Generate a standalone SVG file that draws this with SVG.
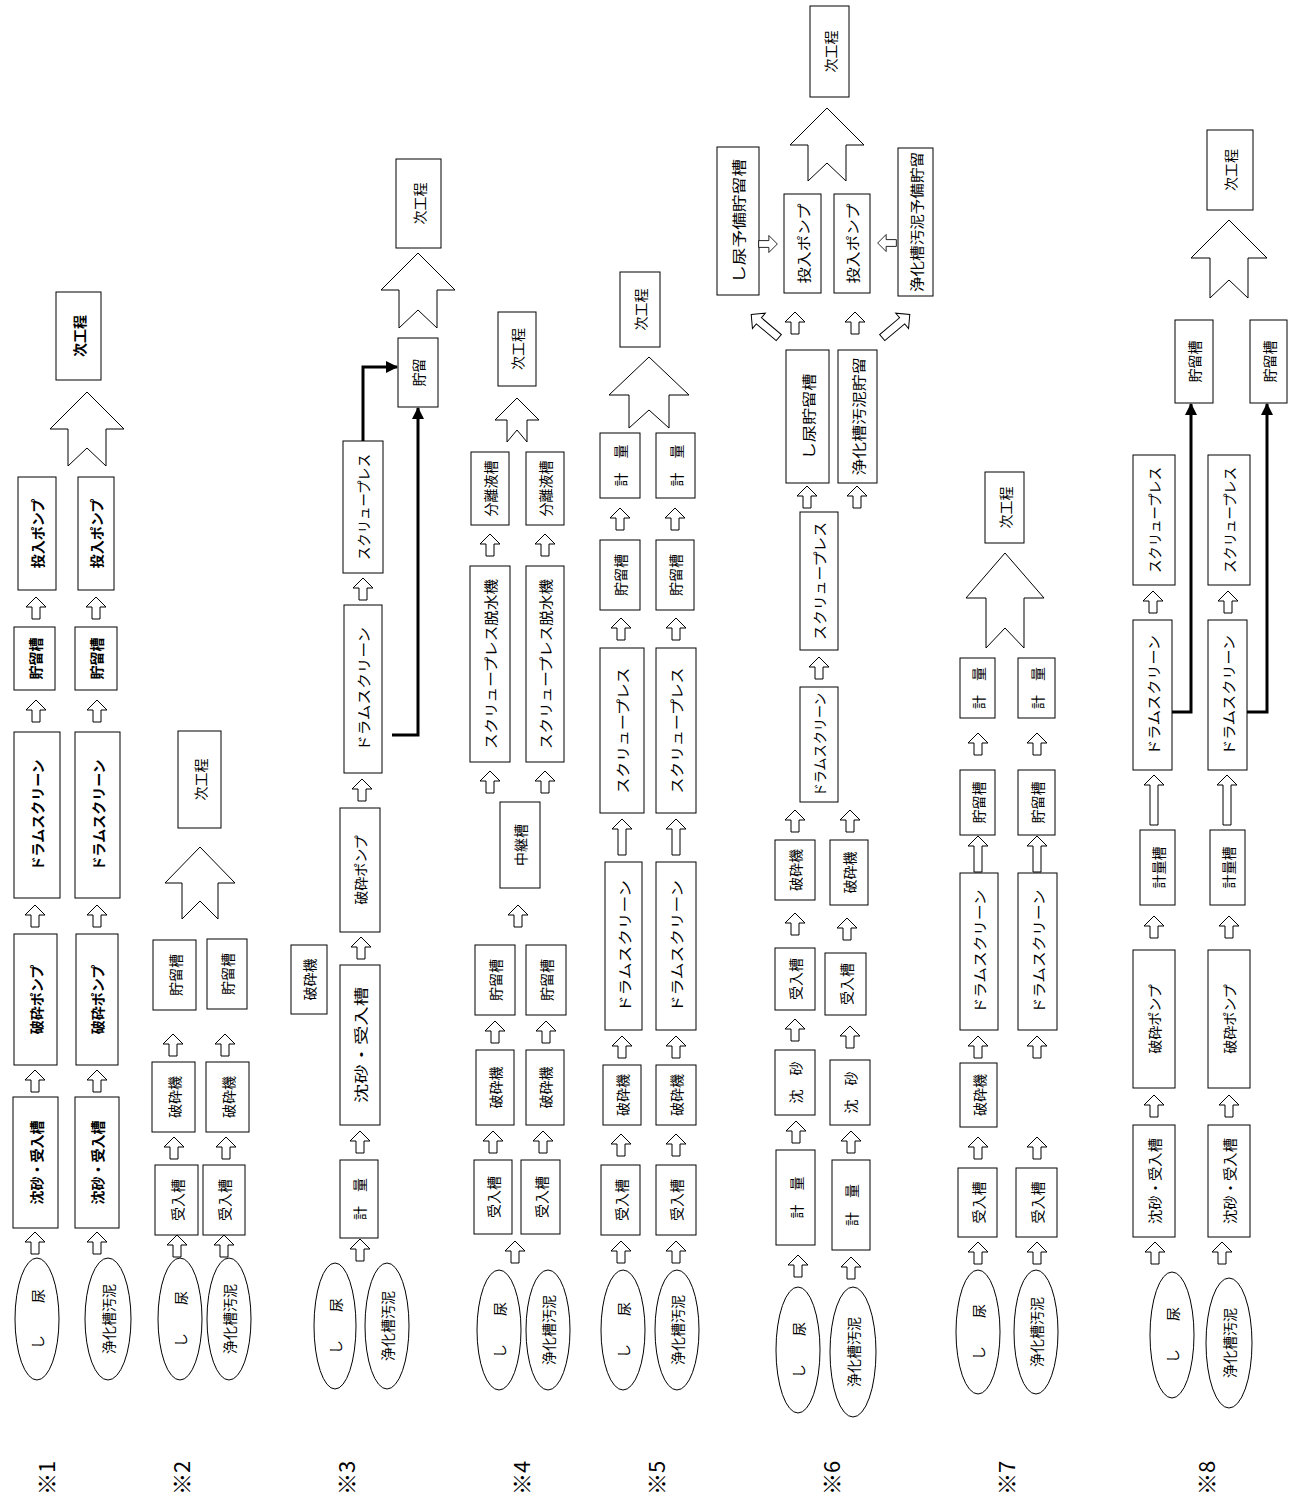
<svg xmlns="http://www.w3.org/2000/svg" xmlns:xlink="http://www.w3.org/1999/xlink" width="1293" height="1506" viewBox="0 0 1293 1506">
<style>
.b{fill:#fff;stroke:#000;stroke-width:1}
.t{font-family:"Noto Sans CJK JP","Noto Sans CJK SC",sans-serif;font-size:14px;text-anchor:middle;dominant-baseline:central;fill:#000}
.tb{font-weight:bold;font-size:14px}
.ar{fill:#fff;stroke:#000;stroke-width:1}
.big{fill:#fff;stroke:#000;stroke-width:1}
.th{fill:none;stroke:#000;stroke-width:3}
.lab{font-family:"Noto Sans CJK JP",sans-serif;font-size:22px;text-anchor:middle;dominant-baseline:central}
</style>
<defs>
<path id="sa" class="ar" d="M0,-11 L10,-1 L4,-1 L4,11 L-4,11 L-4,-1 L-10,-1 Z"/>
<path id="ta" class="ar" d="M0,-18 L10,-8 L4,-8 L4,18 L-4,18 L-4,-8 L-10,-8 Z"/>
<path id="tb" class="ar" d="M0,-25 L10,-15 L4,-15 L4,25 L-4,25 L-4,-15 L-10,-15 Z"/>
<marker id="ah" markerWidth="12" markerHeight="12" refX="11" refY="6" orient="auto" markerUnits="userSpaceOnUse"><path d="M0,0 L12,6 L0,12 Z" fill="#000"/></marker>
</defs>
<rect width="1293" height="1506" fill="#fff"/>

<!-- ※1 -->
<g id="c1">
<g id="n1_e1"><ellipse class="b" cx="37" cy="1319" rx="22" ry="61"/><text class="t" transform="translate(37,1319) rotate(-90)" textLength="60" lengthAdjust="spacing">し　尿</text></g>
<g id="n1_e2"><ellipse class="b" cx="108" cy="1319" rx="23" ry="61"/><text class="t" transform="translate(108,1319) rotate(-90)">浄化槽汚泥</text></g>
<g id="n1_a1"><rect class="b" x="13" y="1097" width="45" height="131"/><text class="t tb" transform="translate(35.5,1162.5) rotate(-90)">沈砂・受入槽</text></g>
<g id="n1_a2"><rect class="b" x="75" y="1097" width="44" height="131"/><text class="t tb" transform="translate(97,1162.5) rotate(-90)">沈砂・受入槽</text></g>
<g id="n1_b1"><rect class="b" x="14" y="934" width="43" height="131"/><text class="t tb" transform="translate(35.5,999.5) rotate(-90)">破砕ポンプ</text></g>
<g id="n1_b2"><rect class="b" x="76" y="934" width="42" height="131"/><text class="t tb" transform="translate(97,999.5) rotate(-90)">破砕ポンプ</text></g>
<g id="n1_c1"><rect class="b" x="14" y="732" width="46" height="166"/><text class="t tb" transform="translate(37,815) rotate(-90)">ドラムスクリーン</text></g>
<g id="n1_c2"><rect class="b" x="75" y="732" width="45" height="166"/><text class="t tb" transform="translate(97.5,815) rotate(-90)">ドラムスクリーン</text></g>
<g id="n1_d1"><rect class="b" x="14" y="627" width="41" height="63"/><text class="t tb" transform="translate(34.5,658.5) rotate(-90)">貯留槽</text></g>
<g id="n1_d2"><rect class="b" x="75" y="627" width="42" height="63"/><text class="t tb" transform="translate(96,658.5) rotate(-90)">貯留槽</text></g>
<g id="n1_f1"><rect class="b" x="18" y="477" width="38" height="113"/><text class="t tb" transform="translate(37,533.5) rotate(-90)">投入ポンプ</text></g>
<g id="n1_f2"><rect class="b" x="78" y="477" width="36" height="113"/><text class="t tb" transform="translate(96,533.5) rotate(-90)">投入ポンプ</text></g>
<g id="n1_next"><rect class="b" x="56" y="292" width="45" height="88"/><text class="t tb" transform="translate(78.5,336) rotate(-90)">次工程</text></g>
</g>

<!-- ※2 -->
<g id="c2">
<g id="n2_e1"><ellipse class="b" cx="180" cy="1319" rx="22" ry="61"/><text class="t" transform="translate(180,1319) rotate(-90)" textLength="56" lengthAdjust="spacing">し　尿</text></g>
<g id="n2_e2"><ellipse class="b" cx="229" cy="1319" rx="22" ry="61"/><text class="t" transform="translate(229,1319) rotate(-90)">浄化槽汚泥</text></g>
<g id="n2_a1"><rect class="b" x="155" y="1165" width="43" height="70"/><text class="t" transform="translate(176.5,1200) rotate(-90)">受入槽</text></g>
<g id="n2_a2"><rect class="b" x="203" y="1165" width="42" height="70"/><text class="t" transform="translate(224,1200) rotate(-90)">受入槽</text></g>
<g id="n2_b1"><rect class="b" x="152" y="1062" width="43" height="70"/><text class="t" transform="translate(173.5,1097) rotate(-90)">破砕機</text></g>
<g id="n2_b2"><rect class="b" x="206" y="1062" width="43" height="70"/><text class="t" transform="translate(227.5,1097) rotate(-90)">破砕機</text></g>
<g id="n2_c1"><rect class="b" x="153" y="940" width="43" height="70"/><text class="t" transform="translate(174.5,975) rotate(-90)">貯留槽</text></g>
<g id="n2_c2"><rect class="b" x="207" y="939" width="40" height="70"/><text class="t" transform="translate(227,974) rotate(-90)">貯留槽</text></g>
<g id="n2_next"><rect class="b" x="178" y="731" width="43" height="97"/><text class="t" transform="translate(199.5,779.5) rotate(-90)">次工程</text></g>
</g>

<!-- ※3 -->
<g id="c3">
<g id="n3_e1"><ellipse class="b" cx="335" cy="1326" rx="21" ry="63"/><text class="t" transform="translate(335,1326) rotate(-90)" textLength="56" lengthAdjust="spacing">し　尿</text></g>
<g id="n3_e2"><ellipse class="b" cx="387" cy="1326" rx="22" ry="63"/><text class="t" transform="translate(387,1326) rotate(-90)">浄化槽汚泥</text></g>
<g id="n3_a"><rect class="b" x="340" y="1160" width="38" height="78"/><text class="t" transform="translate(359,1199) rotate(-90)">計　量</text></g>
<g id="n3_b"><rect class="b" x="340" y="965" width="40" height="160"/><text class="t" transform="translate(360,1045) rotate(-90)" textLength="116" lengthAdjust="spacingAndGlyphs">沈砂・受入槽</text></g>
<g id="n3_c"><rect class="b" x="340" y="808" width="40" height="124"/><text class="t" transform="translate(360,870) rotate(-90)">破砕ポンプ</text></g>
<g id="n3_d"><rect class="b" x="344" y="605" width="38" height="168"/><text class="t" transform="translate(363,689) rotate(-90)" textLength="124" lengthAdjust="spacingAndGlyphs">ドラムスクリーン</text></g>
<g id="n3_e"><rect class="b" x="343" y="441" width="40" height="132"/><text class="t" transform="translate(363,507) rotate(-90)" textLength="106" lengthAdjust="spacingAndGlyphs">スクリュープレス</text></g>
<g id="n3_f"><rect class="b" x="398" y="338" width="40" height="69"/><text class="t" transform="translate(418,372.5) rotate(-90)">貯留</text></g>
<g id="n3_x"><rect class="b" x="291" y="945" width="36" height="69"/><text class="t" transform="translate(309,979.5) rotate(-90)">破砕機</text></g>
<g id="n3_next"><rect class="b" x="396" y="159" width="45" height="89"/><text class="t" transform="translate(418.5,203.5) rotate(-90)">次工程</text></g>
</g>

<!-- ※4 -->
<g id="c4">
<g id="n4_e1"><ellipse class="b" cx="499" cy="1330" rx="22" ry="60"/><text class="t" transform="translate(499,1330) rotate(-90)" textLength="56" lengthAdjust="spacing">し　尿</text></g>
<g id="n4_e2"><ellipse class="b" cx="548" cy="1330" rx="22" ry="60"/><text class="t" transform="translate(548,1330) rotate(-90)">浄化槽汚泥</text></g>
<g id="n4_a1"><rect class="b" x="474" y="1160" width="38" height="74"/><text class="t" transform="translate(493,1197) rotate(-90)">受入槽</text></g>
<g id="n4_a2"><rect class="b" x="521" y="1160" width="39" height="74"/><text class="t" transform="translate(540.5,1197) rotate(-90)">受入槽</text></g>
<g id="n4_b1"><rect class="b" x="476" y="1050" width="38" height="75"/><text class="t" transform="translate(495,1087.5) rotate(-90)">破砕機</text></g>
<g id="n4_b2"><rect class="b" x="526" y="1050" width="38" height="75"/><text class="t" transform="translate(545,1087.5) rotate(-90)">破砕機</text></g>
<g id="n4_c1"><rect class="b" x="475" y="945" width="40" height="70"/><text class="t" transform="translate(495,980) rotate(-90)">貯留槽</text></g>
<g id="n4_c2"><rect class="b" x="526" y="945" width="40" height="70"/><text class="t" transform="translate(546,980) rotate(-90)">貯留槽</text></g>
<g id="n4_d"><rect class="b" x="500" y="802" width="40" height="86"/><text class="t" transform="translate(520,845) rotate(-90)">中継槽</text></g>
<g id="n4_e1b"><rect class="b" x="470" y="566" width="40" height="196"/><text class="t" transform="translate(490,664) rotate(-90)" textLength="170" lengthAdjust="spacingAndGlyphs">スクリュープレス脱水機</text></g>
<g id="n4_e2b"><rect class="b" x="526" y="566" width="38" height="196"/><text class="t" transform="translate(545,664) rotate(-90)" textLength="170" lengthAdjust="spacingAndGlyphs">スクリュープレス脱水機</text></g>
<g id="n4_f1"><rect class="b" x="471" y="452" width="38" height="73"/><text class="t" transform="translate(490,488.5) rotate(-90)">分離液槽</text></g>
<g id="n4_f2"><rect class="b" x="526" y="452" width="38" height="73"/><text class="t" transform="translate(545,488.5) rotate(-90)">分離液槽</text></g>
<g id="n4_next"><rect class="b" x="498" y="312" width="38" height="74"/><text class="t" transform="translate(517,349) rotate(-90)">次工程</text></g>
</g>

<!-- ※5 -->
<g id="c5">
<g id="n5_e1"><ellipse class="b" cx="623" cy="1330" rx="22" ry="60"/><text class="t" transform="translate(623,1330) rotate(-90)" textLength="56" lengthAdjust="spacing">し　尿</text></g>
<g id="n5_e2"><ellipse class="b" cx="677" cy="1330" rx="22" ry="60"/><text class="t" transform="translate(677,1330) rotate(-90)">浄化槽汚泥</text></g>
<g id="n5_a1"><rect class="b" x="601" y="1165" width="39" height="70"/><text class="t" transform="translate(620.5,1200) rotate(-90)">受入槽</text></g>
<g id="n5_a2"><rect class="b" x="656" y="1165" width="40" height="70"/><text class="t" transform="translate(676,1200) rotate(-90)">受入槽</text></g>
<g id="n5_b1"><rect class="b" x="603" y="1065" width="38" height="60"/><text class="t" transform="translate(622,1095) rotate(-90)">破砕機</text></g>
<g id="n5_b2"><rect class="b" x="656" y="1065" width="40" height="60"/><text class="t" transform="translate(676,1095) rotate(-90)">破砕機</text></g>
<g id="n5_c1"><rect class="b" x="605" y="862" width="37" height="168"/><text class="t" transform="translate(623.5,946) rotate(-90)" textLength="132" lengthAdjust="spacingAndGlyphs">ドラムスクリーン</text></g>
<g id="n5_c2"><rect class="b" x="656" y="862" width="40" height="168"/><text class="t" transform="translate(676,946) rotate(-90)" textLength="132" lengthAdjust="spacingAndGlyphs">ドラムスクリーン</text></g>
<g id="n5_d1"><rect class="b" x="600" y="648" width="44" height="165"/><text class="t" transform="translate(622,730.5) rotate(-90)" textLength="126" lengthAdjust="spacingAndGlyphs">スクリュープレス</text></g>
<g id="n5_d2"><rect class="b" x="656" y="648" width="40" height="165"/><text class="t" transform="translate(676,730.5) rotate(-90)" textLength="126" lengthAdjust="spacingAndGlyphs">スクリュープレス</text></g>
<g id="n5_f1"><rect class="b" x="600" y="540" width="40" height="70"/><text class="t" transform="translate(620,575) rotate(-90)">貯留槽</text></g>
<g id="n5_f2"><rect class="b" x="656" y="540" width="38" height="70"/><text class="t" transform="translate(675,575) rotate(-90)">貯留槽</text></g>
<g id="n5_g1"><rect class="b" x="600" y="433" width="40" height="65"/><text class="t" transform="translate(620,465.5) rotate(-90)">計　量</text></g>
<g id="n5_g2"><rect class="b" x="656" y="433" width="39" height="65"/><text class="t" transform="translate(675.5,465.5) rotate(-90)">計　量</text></g>
<g id="n5_next"><rect class="b" x="620" y="272" width="40" height="75"/><text class="t" transform="translate(640,309.5) rotate(-90)">次工程</text></g>
</g>

<!-- ※6 -->
<g id="c6">
<g id="n6_e1"><ellipse class="b" cx="798" cy="1350" rx="22" ry="63"/><text class="t" transform="translate(798,1350) rotate(-90)" textLength="56" lengthAdjust="spacing">し　尿</text></g>
<g id="n6_e2"><ellipse class="b" cx="853" cy="1352" rx="23" ry="65"/><text class="t" transform="translate(853,1352) rotate(-90)">浄化槽汚泥</text></g>
<g id="n6_a1"><rect class="b" x="776" y="1150" width="39" height="95"/><text class="t" transform="translate(795.5,1197.5) rotate(-90)">計　量</text></g>
<g id="n6_a2"><rect class="b" x="832" y="1160" width="38" height="90"/><text class="t" transform="translate(851,1205) rotate(-90)">計　量</text></g>
<g id="n6_b1"><rect class="b" x="775" y="1050" width="40" height="65"/><text class="t" transform="translate(795,1082.5) rotate(-90)">沈　砂</text></g>
<g id="n6_b2"><rect class="b" x="830" y="1060" width="40" height="65"/><text class="t" transform="translate(850,1092.5) rotate(-90)">沈　砂</text></g>
<g id="n6_c1"><rect class="b" x="775" y="948" width="40" height="62"/><text class="t" transform="translate(795,979) rotate(-90)">受入槽</text></g>
<g id="n6_c2"><rect class="b" x="825" y="953" width="41" height="62"/><text class="t" transform="translate(845.5,984) rotate(-90)">受入槽</text></g>
<g id="n6_d1"><rect class="b" x="775" y="840" width="40" height="60"/><text class="t" transform="translate(795,870) rotate(-90)">破砕機</text></g>
<g id="n6_d2"><rect class="b" x="830" y="840" width="38" height="65"/><text class="t" transform="translate(849,872.5) rotate(-90)">破砕機</text></g>
<g id="n6_e"><rect class="b" x="800" y="687" width="38" height="115"/><text class="t" transform="translate(819,744.5) rotate(-90)" textLength="104" lengthAdjust="spacingAndGlyphs">ドラムスクリーン</text></g>
<g id="n6_f"><rect class="b" x="800" y="512" width="38" height="138"/><text class="t" transform="translate(819,581) rotate(-90)" textLength="118" lengthAdjust="spacingAndGlyphs">スクリュープレス</text></g>
<g id="n6_g1"><rect class="b" x="786" y="350" width="43" height="133"/><text class="t" transform="translate(807.5,416.5) rotate(-90)" textLength="86" lengthAdjust="spacingAndGlyphs">し尿貯留槽</text></g>
<g id="n6_g2"><rect class="b" x="838" y="350" width="39" height="133"/><text class="t" transform="translate(857.5,416.5) rotate(-90)" textLength="118" lengthAdjust="spacingAndGlyphs">浄化槽汚泥貯留</text></g>
<g id="n6_h1"><rect class="b" x="717" y="147" width="42" height="148"/><text class="t" transform="translate(738,221) rotate(-90)" textLength="124" lengthAdjust="spacingAndGlyphs">し尿予備貯留槽</text></g>
<g id="n6_i1"><rect class="b" x="784" y="194" width="37" height="99"/><text class="t" transform="translate(802.5,243.5) rotate(-90)" textLength="80" lengthAdjust="spacingAndGlyphs">投入ポンプ</text></g>
<g id="n6_i2"><rect class="b" x="834" y="194" width="36" height="99"/><text class="t" transform="translate(852,243.5) rotate(-90)" textLength="80" lengthAdjust="spacingAndGlyphs">投入ポンプ</text></g>
<g id="n6_h2"><rect class="b" x="898" y="148" width="35" height="148"/><text class="t" transform="translate(915.5,222) rotate(-90)" textLength="140" lengthAdjust="spacingAndGlyphs">浄化槽汚泥予備貯留</text></g>
<g id="n6_next"><rect class="b" x="810" y="6" width="39" height="91"/><text class="t" transform="translate(829.5,51.5) rotate(-90)">次工程</text></g>
</g>

<!-- ※7 -->
<g id="c7">
<g id="n7_e1"><ellipse class="b" cx="978" cy="1332" rx="22" ry="62"/><text class="t" transform="translate(978,1332) rotate(-90)" textLength="56" lengthAdjust="spacing">し　尿</text></g>
<g id="n7_e2"><ellipse class="b" cx="1036" cy="1332" rx="22" ry="62"/><text class="t" transform="translate(1036,1332) rotate(-90)">浄化槽汚泥</text></g>
<g id="n7_a1"><rect class="b" x="958" y="1168" width="39" height="69"/><text class="t" transform="translate(977.5,1202.5) rotate(-90)">受入槽</text></g>
<g id="n7_a2"><rect class="b" x="1016" y="1168" width="41" height="69"/><text class="t" transform="translate(1036.5,1202.5) rotate(-90)">受入槽</text></g>
<g id="n7_b1"><rect class="b" x="960" y="1063" width="37" height="64"/><text class="t" transform="translate(978.5,1095) rotate(-90)">破砕機</text></g>
<g id="n7_c1"><rect class="b" x="960" y="873" width="38" height="157"/><text class="t" transform="translate(979,951.5) rotate(-90)" textLength="124" lengthAdjust="spacingAndGlyphs">ドラムスクリーン</text></g>
<g id="n7_c2"><rect class="b" x="1018" y="873" width="39" height="157"/><text class="t" transform="translate(1037.5,951.5) rotate(-90)" textLength="124" lengthAdjust="spacingAndGlyphs">ドラムスクリーン</text></g>
<g id="n7_d1"><rect class="b" x="960" y="770" width="35" height="65"/><text class="t" transform="translate(977.5,802.5) rotate(-90)">貯留槽</text></g>
<g id="n7_d2"><rect class="b" x="1018" y="770" width="37" height="65"/><text class="t" transform="translate(1036.5,802.5) rotate(-90)">貯留槽</text></g>
<g id="n7_f1"><rect class="b" x="960" y="658" width="35" height="60"/><text class="t" transform="translate(977.5,688) rotate(-90)">計　量</text></g>
<g id="n7_f2"><rect class="b" x="1018" y="658" width="37" height="60"/><text class="t" transform="translate(1036.5,688) rotate(-90)">計　量</text></g>
<g id="n7_next"><rect class="b" x="985" y="472" width="39" height="71"/><text class="t" transform="translate(1004.5,507.5) rotate(-90)">次工程</text></g>
</g>

<!-- ※8 -->
<g id="c8">
<g id="n8_e1"><ellipse class="b" cx="1172" cy="1335" rx="22" ry="63"/><text class="t" transform="translate(1172,1335) rotate(-90)" textLength="56" lengthAdjust="spacing">し　尿</text></g>
<g id="n8_e2"><ellipse class="b" cx="1229" cy="1343" rx="23" ry="65"/><text class="t" transform="translate(1229,1343) rotate(-90)">浄化槽汚泥</text></g>
<g id="n8_a1"><rect class="b" x="1133" y="1125" width="42" height="112"/><text class="t" transform="translate(1154,1181) rotate(-90)" textLength="86" lengthAdjust="spacingAndGlyphs">沈砂・受入槽</text></g>
<g id="n8_a2"><rect class="b" x="1208" y="1125" width="42" height="112"/><text class="t" transform="translate(1229,1181) rotate(-90)" textLength="86" lengthAdjust="spacingAndGlyphs">沈砂・受入槽</text></g>
<g id="n8_b1"><rect class="b" x="1133" y="950" width="42" height="138"/><text class="t" transform="translate(1154,1019) rotate(-90)">破砕ポンプ</text></g>
<g id="n8_b2"><rect class="b" x="1208" y="950" width="42" height="138"/><text class="t" transform="translate(1229,1019) rotate(-90)">破砕ポンプ</text></g>
<g id="n8_c1"><rect class="b" x="1140" y="830" width="35" height="75"/><text class="t" transform="translate(1157.5,867.5) rotate(-90)">計量槽</text></g>
<g id="n8_c2"><rect class="b" x="1210" y="830" width="35" height="75"/><text class="t" transform="translate(1227.5,867.5) rotate(-90)">計量槽</text></g>
<g id="n8_d1"><rect class="b" x="1133" y="620" width="39" height="150"/><text class="t" transform="translate(1152.5,695) rotate(-90)" textLength="120" lengthAdjust="spacingAndGlyphs">ドラムスクリーン</text></g>
<g id="n8_d2"><rect class="b" x="1208" y="620" width="39" height="150"/><text class="t" transform="translate(1227.5,695) rotate(-90)" textLength="120" lengthAdjust="spacingAndGlyphs">ドラムスクリーン</text></g>
<g id="n8_f1"><rect class="b" x="1133" y="455" width="42" height="130"/><text class="t" transform="translate(1154,520) rotate(-90)" textLength="106" lengthAdjust="spacingAndGlyphs">スクリュープレス</text></g>
<g id="n8_f2"><rect class="b" x="1208" y="455" width="42" height="130"/><text class="t" transform="translate(1229,520) rotate(-90)" textLength="106" lengthAdjust="spacingAndGlyphs">スクリュープレス</text></g>
<g id="n8_g1"><rect class="b" x="1175" y="320" width="38" height="83"/><text class="t" transform="translate(1194,361.5) rotate(-90)">貯留槽</text></g>
<g id="n8_g2"><rect class="b" x="1250" y="320" width="37" height="83"/><text class="t" transform="translate(1268.5,361.5) rotate(-90)">貯留槽</text></g>
<g id="n8_next"><rect class="b" x="1207" y="130" width="46" height="80"/><text class="t" transform="translate(1230,170) rotate(-90)">次工程</text></g>
</g>

<!-- connectors -->
<g id="connectors">
<use href="#sa" x="35" y="1243"/><use href="#sa" x="97" y="1243"/>
<use href="#sa" x="35" y="1081"/><use href="#sa" x="97" y="1081"/>
<use href="#sa" x="35" y="916"/><use href="#sa" x="97" y="916"/>
<use href="#sa" x="36" y="711"/><use href="#sa" x="97" y="711"/>
<use href="#sa" x="36" y="608"/><use href="#sa" x="96" y="608"/>
<path class="big" d="M87,392 L124,429 L106,429 L106,466 L87,448 L68,466 L68,429 L50,429 Z"/>
<use href="#sa" x="177" y="1246"/><use href="#sa" x="224" y="1246"/>
<use href="#sa" x="174" y="1148"/><use href="#sa" x="226" y="1148"/>
<use href="#sa" x="173" y="1045"/><use href="#sa" x="225" y="1045"/>
<path class="big" d="M200,847 L235,883 L218,883 L218,919 L200,901 L182,919 L182,883 L165,883 Z"/>
<use href="#sa" x="360" y="1250"/>
<use href="#sa" x="360" y="1142"/>
<use href="#sa" x="361" y="948"/>
<use href="#sa" x="362" y="790"/>
<use href="#sa" x="363" y="589"/>
<path class="th" d="M363,441 V367 H397" marker-end="url(#ah)"/>
<path class="th" d="M392,735 H418 V408" marker-end="url(#ah)"/>
<path class="big" d="M418,253 L455,290 L437,290 L437,328 L418,310 L399,328 L399,290 L381,290 Z"/>
<use href="#sa" x="515" y="1252"/>
<use href="#sa" x="493" y="1142"/><use href="#sa" x="543" y="1142"/>
<use href="#sa" x="495" y="1032"/><use href="#sa" x="546" y="1032"/>
<use href="#sa" x="518" y="916"/>
<use href="#sa" x="490" y="782"/><use href="#sa" x="545" y="782"/>
<use href="#sa" x="490" y="545"/><use href="#sa" x="545" y="545"/>
<path class="big" d="M517,398 L539,420 L527,420 L527,442 L517,430 L507,442 L507,420 L495,420 Z"/>
<use href="#sa" x="621" y="1252"/><use href="#sa" x="676" y="1252"/>
<use href="#sa" x="621" y="1145"/><use href="#sa" x="676" y="1145"/>
<use href="#sa" x="622" y="1047"/><use href="#sa" x="676" y="1047"/>
<use href="#ta" x="622" y="837"/><use href="#ta" x="676" y="837"/>
<use href="#sa" x="621" y="629"/><use href="#sa" x="676" y="629"/>
<use href="#sa" x="620" y="519"/><use href="#sa" x="675" y="519"/>
<path class="big" d="M649,357 L689,395 L669,395 L669,428 L649,410 L629,428 L629,395 L609,395 Z"/>
<use href="#sa" x="798" y="1266"/><use href="#sa" x="851" y="1268"/>
<use href="#sa" x="796" y="1132"/><use href="#sa" x="851" y="1142"/>
<use href="#sa" x="795" y="1030"/><use href="#sa" x="850" y="1037"/>
<use href="#sa" x="795" y="924"/><use href="#sa" x="847" y="929"/>
<use href="#sa" x="795" y="821"/><use href="#sa" x="850" y="821"/>
<use href="#sa" x="819" y="668"/>
<use href="#sa" x="807" y="497"/><use href="#sa" x="857" y="497"/>
<use href="#sa" x="795" y="323"/><use href="#sa" x="855" y="323"/>
<use href="#ta" transform="translate(765,326) rotate(-50)"/>
<use href="#ta" transform="translate(896,326) rotate(50)"/>
<use href="#sa" transform="translate(768,244) rotate(90) scale(0.85)"/>
<use href="#sa" transform="translate(887,243) rotate(-90) scale(0.85)"/>
<path class="big" d="M827,108 L864,145 L846,145 L846,181 L827,163 L808,181 L808,145 L790,145 Z"/>
<use href="#sa" x="978" y="1253"/><use href="#sa" x="1037" y="1253"/>
<use href="#sa" x="978" y="1148"/><use href="#sa" x="1037" y="1148"/>
<use href="#sa" x="978" y="1047"/><use href="#sa" x="1037" y="1047"/>
<use href="#ta" x="978" y="854"/><use href="#ta" x="1037" y="854"/>
<use href="#sa" x="978" y="744"/><use href="#sa" x="1037" y="744"/>
<path class="big" d="M1005,553 L1044,598 L1024,598 L1024,648 L1005,628 L986,648 L986,598 L966,598 Z"/>
<use href="#sa" x="1155" y="1253"/><use href="#sa" x="1222" y="1253"/>
<use href="#sa" x="1154" y="1106"/><use href="#sa" x="1229" y="1106"/>
<use href="#sa" x="1154" y="927"/><use href="#sa" x="1229" y="927"/>
<use href="#tb" x="1154" y="800"/><use href="#tb" x="1227" y="800"/>
<use href="#sa" x="1153" y="602"/><use href="#sa" x="1228" y="602"/>
<path class="th" d="M1172,712 H1191 V404" marker-end="url(#ah)"/>
<path class="th" d="M1247,712 H1267 V404" marker-end="url(#ah)"/>
<path class="big" d="M1229,220 L1267,258 L1248,258 L1248,298 L1229,280 L1210,298 L1210,258 L1191,258 Z"/>
</g>

<g id="labels">
<text class="lab" transform="translate(45,1478) rotate(-90)">※1</text>
<text class="lab" transform="translate(180,1478) rotate(-90)">※2</text>
<text class="lab" transform="translate(345,1478) rotate(-90)">※3</text>
<text class="lab" transform="translate(520,1478) rotate(-90)">※4</text>
<text class="lab" transform="translate(655,1478) rotate(-90)">※5</text>
<text class="lab" transform="translate(830,1478) rotate(-90)">※6</text>
<text class="lab" transform="translate(1005,1478) rotate(-90)">※7</text>
<text class="lab" transform="translate(1205,1478) rotate(-90)">※8</text>
</g>
</svg>
